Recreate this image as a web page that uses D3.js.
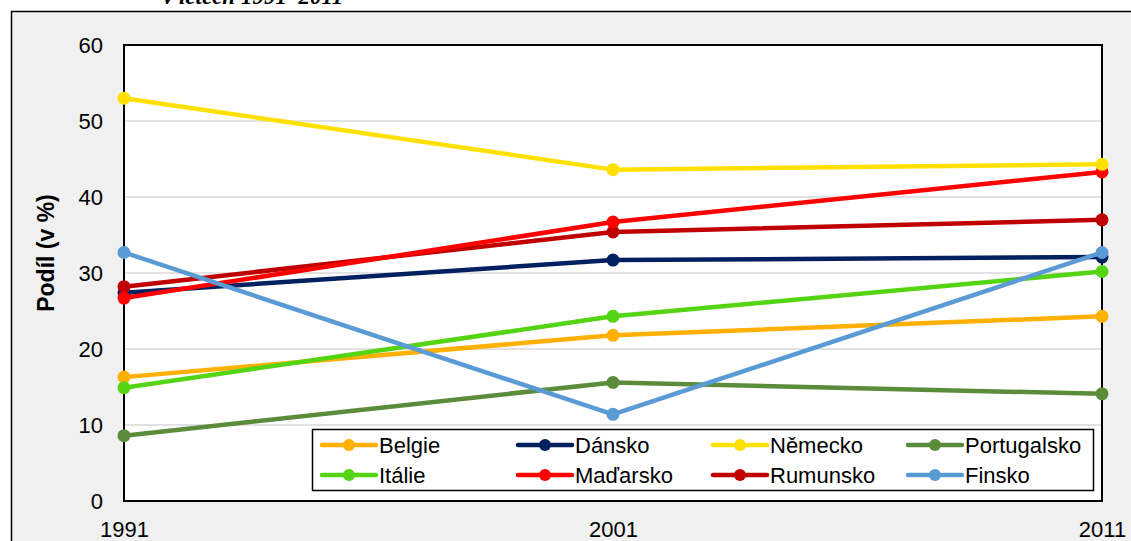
<!DOCTYPE html>
<html>
<head>
<meta charset="utf-8">
<script src="https://cdn.jsdelivr.net/npm/d3@7"></script>
<style>
  body { margin: 0; background: #fff; }
  svg { display: block; font-family: Arial, "Liberation Sans", sans-serif; }
</style>
</head>
<body>
<svg id="chart" width="1131" height="541"></svg>
<script>
// data
const years = [1991, 2001, 2011];
const yTicks = [0, 10, 20, 30, 40, 50, 60];
const names = ["Belgie", "Dánsko", "Německo", "Portugalsko", "Itálie", "Maďarsko", "Rumunsko", "Finsko"];
const colors = ["#ffb000", "#002060", "#ffe000", "#5b8c3a", "#55d414", "#ff0000", "#c00000", "#5b9bd5"];
const belgie = [16.3, 21.8, 24.3];
const dansko = [27.4, 31.7, 32.1];
const nemecko = [53.0, 43.6, 44.3];
const portugalsko = [8.6, 15.6, 14.1];
const italie = [14.9, 24.3, 30.2];
const madarsko = [26.7, 36.7, 43.3];
const rumunsko = [28.2, 35.4, 37.0];
const finsko = [32.7, 11.4, 32.7];
const values = [belgie, dansko, nemecko, portugalsko, italie, madarsko, rumunsko, finsko];
// drawing order (back to front)
const drawOrder = [1, 0, 4, 3, 6, 5, 2, 7];

const svg = d3.select("#chart");

// outer frame
svg.append("rect")
  .attr("x", 11.5).attr("y", 11.5)
  .attr("width", 1200).attr("height", 600)
  .attr("fill", "#f0f0f0")
  .attr("stroke", "#000").attr("stroke-width", 1.5);

// title above the frame (cut off at the top, as in the source)
svg.append("text")
  .attr("x", 163).attr("y", 4)
  .attr("font-family", "'Liberation Serif', 'DejaVu Serif', serif")
  .attr("font-style", "italic").attr("font-weight", "bold")
  .attr("font-size", 23)
  .text("v letech 1991–2011");

const x = d3.scalePoint().domain(years).range([124, 1102]);
const y = d3.scaleLinear().domain([0, 60]).range([501, 45]);

// plot area
svg.append("rect")
  .attr("x", 124).attr("y", 45)
  .attr("width", 978).attr("height", 456)
  .attr("fill", "#fff");

// gridlines
svg.append("g")
  .selectAll("line")
  .data(yTicks.slice(1, -1))
  .join("line")
    .attr("x1", 124).attr("x2", 1102)
    .attr("y1", d => y(d)).attr("y2", d => y(d))
    .attr("stroke", "#d9d9d9").attr("stroke-width", 1.5);

// plot border
svg.append("rect")
  .attr("x", 124).attr("y", 45)
  .attr("width", 978).attr("height", 456)
  .attr("fill", "none")
  .attr("stroke", "#000").attr("stroke-width", 2);

// y axis labels
const yAxis = svg.append("g")
  .attr("transform", "translate(124,0)")
  .call(d3.axisLeft(y).tickValues(yTicks).tickSize(0).tickPadding(21));
yAxis.select(".domain").remove();
yAxis.selectAll("text")
  .attr("font-size", 22).attr("font-family", "Arial, 'Liberation Sans', sans-serif")
  .attr("fill", "#000");

// x axis labels
const xAxis = svg.append("g")
  .attr("transform", "translate(0,501)")
  .call(d3.axisBottom(x).tickSize(0).tickPadding(20));
xAxis.select(".domain").remove();
xAxis.selectAll("text")
  .attr("font-size", 22).attr("font-family", "Arial, 'Liberation Sans', sans-serif")
  .attr("fill", "#000");

// y title
svg.append("text")
  .attr("transform", "translate(54,253) rotate(-90)")
  .attr("text-anchor", "middle")
  .attr("font-size", 23).attr("font-weight", "bold")
  .text("Podíl (v %)");

// series
const line = d3.line()
  .x((d, i) => x(years[i]))
  .y(d => y(d));

const series = svg.append("g")
  .selectAll("g")
  .data(drawOrder)
  .join("g");

series.append("path")
  .attr("d", i => line(values[i]))
  .attr("fill", "none")
  .attr("stroke", i => colors[i])
  .attr("stroke-width", 4.5)
  .attr("stroke-linejoin", "round");

series.selectAll("circle")
  .data(i => values[i].map(v => ({ v, c: colors[i] })))
  .join("circle")
    .attr("cx", (d, j) => x(years[j]))
    .attr("cy", d => y(d.v))
    .attr("r", 6.5)
    .attr("fill", d => d.c);

// legend
svg.append("rect")
  .attr("x", 312.5).attr("y", 429.5)
  .attr("width", 781).attr("height", 61)
  .attr("fill", "#fff")
  .attr("stroke", "#000").attr("stroke-width", 1.5);

const colX = [320, 516, 711, 906];
const rowY = [445, 475];

const items = svg.append("g")
  .selectAll("g")
  .data(names.map((n, i) => i))
  .join("g")
    .attr("transform", i => `translate(${colX[i % 4]},${rowY[Math.floor(i / 4)]})`);

items.append("line")
  .attr("x1", 2).attr("x2", 56)
  .attr("stroke", i => colors[i])
  .attr("stroke-width", 4.5)
  .attr("stroke-linecap", "round");

items.append("circle")
  .attr("cx", 29).attr("r", 6)
  .attr("fill", i => colors[i]);

items.append("text")
  .attr("x", 59).attr("y", 8)
  .attr("font-size", 22)
  .text(i => names[i]);
</script>
</body>
</html>
